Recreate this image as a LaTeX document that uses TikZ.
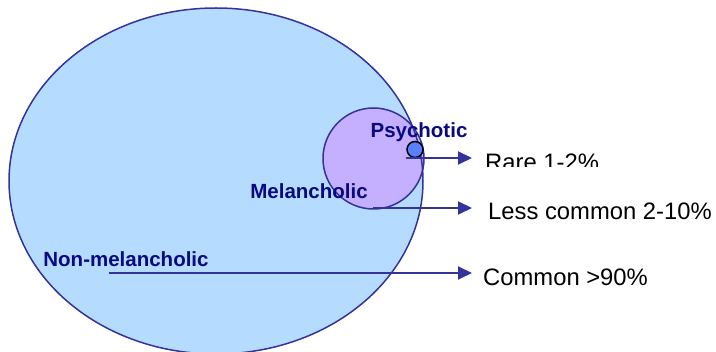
\documentclass[tikz,border=0pt]{standalone}
\usepackage{fontspec}
\setmainfont{Liberation Sans}
\usetikzlibrary{arrows.meta}
\definecolor{ellfill}{HTML}{B5DBFF}
\definecolor{edge}{HTML}{333399}
\definecolor{purp}{HTML}{C8A8FF}
\definecolor{smallc}{HTML}{5B80FF}
\definecolor{navy}{HTML}{0A0A80}
\tikzset{
  lbl/.style={font=\fontsize{20.5}{24}\selectfont\bfseries, text=navy, inner sep=0pt},
  txt/.style={font=\fontsize{23.8}{28}\selectfont, text=black, inner sep=0pt, anchor=west},
  arr/.style={draw=edge, line width=2pt, -{Triangle[length=14pt,width=13pt]}},
  shp/.style={draw=edge, line width=1.5pt}
}
\begin{document}
\begin{tikzpicture}[x=1pt,y=-1pt]
\useasboundingbox (0,0) rectangle (716,352);
\begin{scope}
\clip (0,0) rectangle (716,352);
\fill[ellfill] (216,181) ellipse [x radius=207, y radius=173];
\node[circle, fill=purp, fill opacity=0.85, draw=edge, line width=1.5pt, minimum size=101pt, inner sep=0pt] (mel) at (373.5,158.5) {};
\draw[shp] (216,181) ellipse [x radius=207, y radius=173];
\node[circle, fill=smallc, draw=black, line width=1.5pt, minimum size=16pt, inner sep=0pt] (psy) at (415,149.5) {};
\end{scope}
\node[lbl] (lpsy) at (419,132) {Psychotic};
\node[lbl] (lmel) at (309,191) {Melancholic};
\node[lbl] (lnon) at (126,259) {Non-melancholic};
\coordinate (s1) at (406,158);
\coordinate (e1) at (472,158);
\coordinate (s2) at (373,208);
\coordinate (e2) at (472,208);
\coordinate (s3) at (109,273);
\coordinate (e3) at (472,273);
\draw[arr] (s1) -- (e1);
\draw[arr] (s2) -- (e2);
\draw[arr] (s3) -- (e3);
\begin{scope}
\clip (478,140) rectangle (640,167);
\node[txt] (trare) at (485,162) {Rare 1-2\%};
\end{scope}
\node[txt] (tless) at (488,211) {Less common 2-10\%};
\node[txt] (tcom) at (483,277) {Common >90\%};
\end{tikzpicture}
\end{document}
